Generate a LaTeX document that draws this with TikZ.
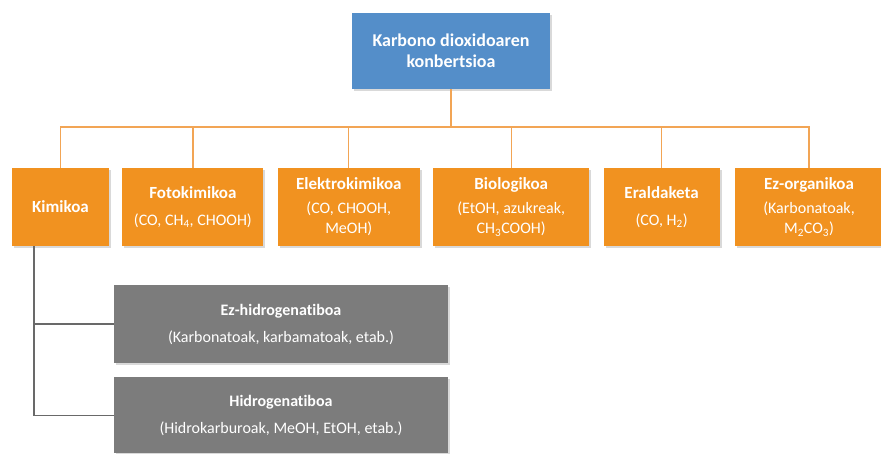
\documentclass[tikz,border=0pt]{standalone}
\usepackage{fontspec}
\setmainfont{Carlito}[Ligatures={NoCommon}]
\usetikzlibrary{positioning,shadows}
\definecolor{rootblue}{RGB}{84,142,201}
\definecolor{topicorange}{RGB}{241,146,32}
\definecolor{branchgray}{RGB}{124,124,124}
\definecolor{linkorange}{RGB}{242,165,85}
\definecolor{linkgray}{RGB}{105,105,105}
\newcommand{\boxhead}[1]{{\fontsize{17}{20}\selectfont\bfseries #1}}
\begin{document}
\begin{tikzpicture}[x=1pt, y=-1pt, every node/.style={align=center, text=white, inner sep=0pt, font=\fontsize{16}{20}\selectfont}]
		\tikzstyle{root} = [fill=rootblue, minimum width=198pt, minimum height=76pt, font=\fontsize{18}{21}\selectfont\bfseries, drop shadow={shadow xshift=2pt, shadow yshift=-2pt, opacity=0.3}]
		\tikzstyle{topic} = [fill=topicorange, minimum height=78pt, drop shadow={shadow xshift=2pt, shadow yshift=-2pt, opacity=0.3}]
		\tikzstyle{branch} = [fill=branchgray, minimum width=334pt, drop shadow={shadow xshift=2pt, shadow yshift=-2pt, opacity=0.3}]
		\tikzstyle{orangelink} = [draw=linkorange, line width=1.3pt]
		\tikzstyle{graylink} = [draw=linkgray, line width=1.5pt]
		
		\useasboundingbox (0,0) rectangle (881,453);
		
		\node[root] (co2) at (451,51) {Karbono dioxidoaren\\konbertsioa};
		\node[topic, minimum width=97pt] (kimi) at (60.5,207) {\boxhead{Kimikoa}};
		\node[topic, minimum width=141pt] (foto) [right=13pt of kimi] {\boxhead{Fotokimikoa}\\[7pt](CO, CH\textsubscript{4}, CHOOH)};
		\node[topic, minimum width=142pt] (elektro) [right=14pt of foto] {\boxhead{Elektrokimikoa}\\[4pt](CO, CHOOH,\\MeOH)};
		\node[topic, minimum width=156pt] (bio) [right=13pt of elektro] {\boxhead{Biologikoa}\\[4pt](EtOH, azukreak,\\CH\textsubscript{3}COOH)};
		\node[topic, minimum width=116pt] (eral) [right=14pt of bio] {\boxhead{Eraldaketa}\\[7pt](CO, H\textsubscript{2})};
		\node[topic, minimum width=148pt] (ezorg) [right=15pt of eral] {\boxhead{Ez-organikoa}\\[4pt](Karbonatoak,\\M\textsubscript{2}CO\textsubscript{3})};
		\node[branch, minimum height=78pt] (ezhidro) at (281,324) {\textbf{Ez-hidrogenatiboa}\\[7pt](Karbonatoak, karbamatoak, etab.)};
		\node[branch, minimum height=76pt] (hidro) [below=14pt of ezhidro] {\textbf{Hidrogenatiboa}\\[7pt](Hidrokarburoak, MeOH, EtOH, etab.)};
		
		\coordinate (bus) at (451,127);
		\coordinate (kimileg) at (34,246);
		
		\draw[orangelink] (co2) -- (bus);
		\draw[orangelink] (bus) -| (kimi);
		\draw[orangelink] (bus) -| (foto);
		\draw[orangelink] (bus) -| (elektro);
		\draw[orangelink] (bus) -| (bio);
		\draw[orangelink] (bus) -| (eral);
		\draw[orangelink] (bus) -| (ezorg);
		\draw[graylink] (kimileg) |- (ezhidro);
		\draw[graylink] (kimileg) |- (hidro);
	\end{tikzpicture}
\end{document}
